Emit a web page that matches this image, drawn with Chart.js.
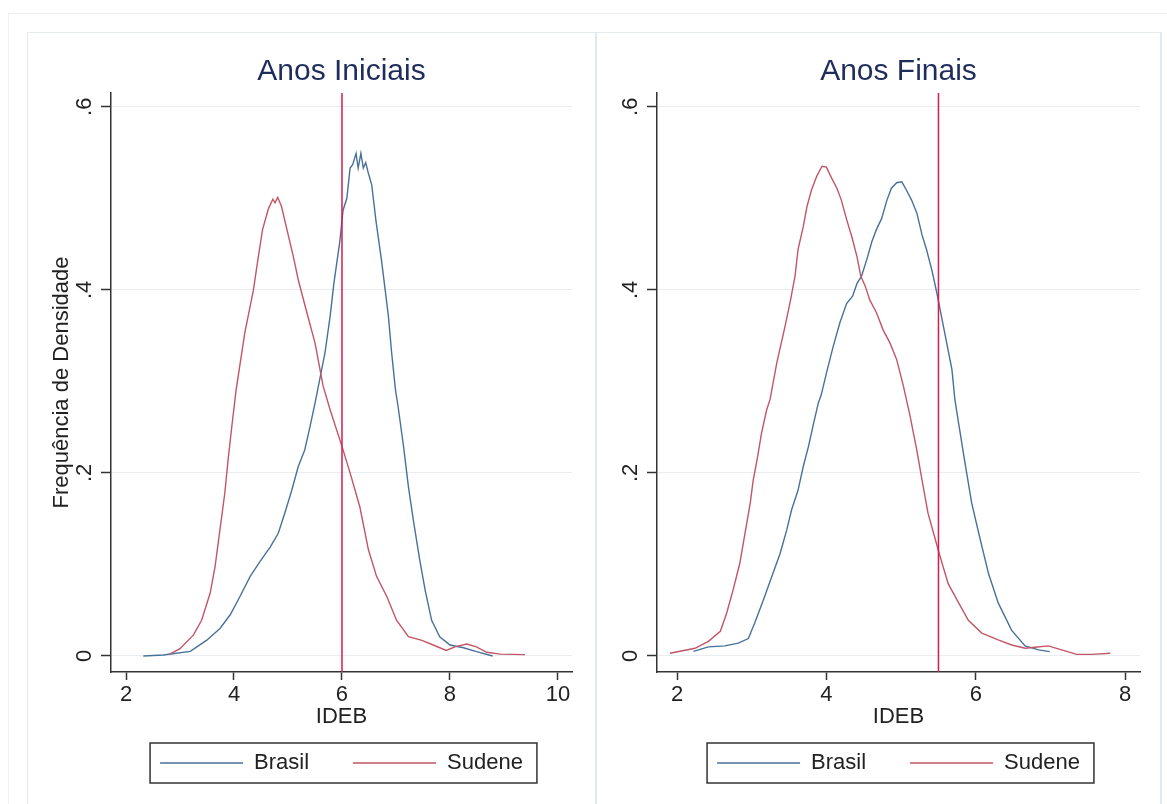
<!DOCTYPE html>
<html>
<head>
<meta charset="utf-8">
<title>IDEB - Anos Iniciais e Finais</title>
<script src="https://cdn.jsdelivr.net/npm/chart.js@4.4.1/dist/chart.umd.min.js"></script>
<style>
  html, body { margin: 0; padding: 0; background: #fff; }
  body { width: 1167px; height: 804px; position: relative; overflow: hidden; }
  .linha { position: absolute; }
  canvas { position: absolute; top: 32px; }
  #graficoIniciais { left: 27px; }
  #graficoFinais { left: 597px; }
</style>
</head>
<body>
<div class="linha" style="left:8px;top:13px;width:1159px;height:1px;background:#eef1f3"></div>
<div class="linha" style="left:8px;top:13px;width:1px;height:791px;background:#eef1f3"></div>
<div class="linha" style="left:27px;top:32px;width:1135px;height:1px;background:#e5ebee"></div>
<div class="linha" style="left:27px;top:32px;width:1px;height:772px;background:#e5ebee"></div>
<div class="linha" style="left:595px;top:32px;width:2px;height:772px;background:#e0e9ed"></div>
<div class="linha" style="left:1160px;top:32px;width:2px;height:772px;background:#e0e9ed"></div>
<canvas id="graficoIniciais" width="568" height="772"></canvas>
<canvas id="graficoFinais" width="563" height="772"></canvas>
<script>
// Anos Iniciais - densidade do IDEB
const iniciaisBrasilX = [2.32, 2.69, 3.19, 3.49, 3.74, 3.93, 4.11, 4.30, 4.48, 4.67, 4.82, 4.94, 5.07, 5.19, 5.31, 5.41, 5.50, 5.56, 5.685, 5.78, 5.85, 5.96, 6.02, 6.09, 6.15, 6.20, 6.26, 6.30, 6.35, 6.395, 6.44, 6.49, 6.55, 6.63, 6.73, 6.80, 6.86, 6.92, 6.99, 7.04, 7.14, 7.23, 7.32, 7.44, 7.54, 7.66, 7.81, 8.00, 8.25, 8.49, 8.79];
const iniciaisBrasilY = [0.000, 0.001, 0.005, 0.017, 0.030, 0.045, 0.065, 0.087, 0.103, 0.119, 0.134, 0.156, 0.181, 0.207, 0.225, 0.251, 0.276, 0.294, 0.331, 0.371, 0.407, 0.453, 0.487, 0.500, 0.533, 0.537, 0.549, 0.533, 0.549, 0.533, 0.539, 0.527, 0.515, 0.475, 0.433, 0.400, 0.371, 0.331, 0.291, 0.272, 0.229, 0.185, 0.149, 0.105, 0.072, 0.039, 0.021, 0.012, 0.009, 0.0047, 0.000];
const iniciaisSudeneX = [2.81, 3.00, 3.25, 3.40, 3.56, 3.65, 3.74, 3.83, 3.89, 3.96, 4.04, 4.20, 4.36, 4.45, 4.53, 4.64, 4.72, 4.76, 4.81, 4.88, 4.98, 5.10, 5.19, 5.35, 5.50, 5.65, 5.78, 6.00, 6.15, 6.33, 6.49, 6.64, 6.83, 7.01, 7.23, 7.48, 7.69, 7.93, 8.09, 8.31, 8.49, 8.68, 8.93, 9.39];
const iniciaisSudeneY = [0.002, 0.008, 0.023, 0.039, 0.069, 0.098, 0.138, 0.178, 0.214, 0.251, 0.291, 0.353, 0.400, 0.436, 0.466, 0.489, 0.499, 0.495, 0.501, 0.491, 0.466, 0.436, 0.411, 0.375, 0.342, 0.295, 0.269, 0.229, 0.200, 0.163, 0.116, 0.087, 0.065, 0.039, 0.021, 0.017, 0.012, 0.006, 0.010, 0.013, 0.010, 0.004, 0.002, 0.0015];

// Anos Finais - densidade do IDEB
const finaisBrasilX = [2.22, 2.42, 2.64, 2.82, 2.955, 3.04, 3.155, 3.27, 3.38, 3.47, 3.535, 3.62, 3.69, 3.76, 3.82, 3.89, 3.93, 4.00, 4.09, 4.18, 4.27, 4.35, 4.41, 4.47, 4.54, 4.61, 4.67, 4.74, 4.81, 4.87, 4.94, 5.01, 5.07, 5.14, 5.21, 5.28, 5.34, 5.41, 5.48, 5.54, 5.61, 5.68, 5.72, 5.77, 5.855, 5.945, 6.06, 6.17, 6.30, 6.48, 6.66, 6.84, 6.99];
const finaisBrasilY = [0.005, 0.010, 0.011, 0.014, 0.019, 0.036, 0.061, 0.087, 0.112, 0.138, 0.160, 0.181, 0.207, 0.229, 0.251, 0.276, 0.285, 0.309, 0.338, 0.364, 0.385, 0.393, 0.407, 0.415, 0.433, 0.453, 0.466, 0.478, 0.498, 0.511, 0.517, 0.518, 0.509, 0.498, 0.484, 0.460, 0.444, 0.422, 0.396, 0.371, 0.342, 0.313, 0.280, 0.254, 0.211, 0.167, 0.127, 0.090, 0.058, 0.028, 0.011, 0.0066, 0.0047];
const finaisSudeneX = [1.906, 2.24, 2.42, 2.58, 2.665, 2.75, 2.84, 2.91, 2.98, 3.02, 3.08, 3.13, 3.20, 3.245, 3.335, 3.446, 3.52, 3.58, 3.62, 3.69, 3.74, 3.80, 3.87, 3.94, 4.00, 4.07, 4.14, 4.20, 4.27, 4.34, 4.41, 4.46, 4.52, 4.58, 4.67, 4.76, 4.85, 4.94, 5.03, 5.12, 5.21, 5.28, 5.36, 5.51, 5.63, 5.77, 5.90, 6.08, 6.30, 6.48, 6.66, 6.79, 6.97, 7.15, 7.35, 7.55, 7.80];
const finaisSudeneY = [0.003, 0.0084, 0.016, 0.027, 0.047, 0.072, 0.101, 0.134, 0.167, 0.192, 0.218, 0.243, 0.269, 0.280, 0.320, 0.360, 0.389, 0.415, 0.444, 0.469, 0.491, 0.509, 0.524, 0.535, 0.534, 0.522, 0.511, 0.498, 0.477, 0.458, 0.436, 0.415, 0.404, 0.389, 0.375, 0.356, 0.342, 0.324, 0.295, 0.262, 0.225, 0.192, 0.156, 0.112, 0.079, 0.058, 0.039, 0.025, 0.0175, 0.012, 0.0084, 0.0095, 0.011, 0.0066, 0.0018, 0.0018, 0.003];

// linhas verticais (meta do IDEB)
const metaIniciais = 6;
const metaFinais = 5.5;

// marcas dos eixos
const ticksY = [0, 0.2, 0.4, 0.6];
const ticksXIniciais = [2, 4, 6, 8, 10];
const ticksXFinais = [2, 4, 6, 8];

// limites dos eixos
const eixoYMin = -0.0175;
const eixoYMax = 0.615;
const eixoXIniciais = [1.722, 10.26];
const eixoXFinais = [1.732, 8.198];

const fonte = "'Liberation Sans', Arial, sans-serif";
const corBrasil = '#48719a';
const corSudene = '#c25666';
const corMeta = '#d81b4f';
const corTexto = '#222222';
const corEixo = '#333333';

// moldura em volta da legenda (estilo Stata)
const caixaLegenda = {
  id: 'caixaLegenda',
  afterDraw(chart) {
    const caixas = chart.legend && chart.legend.legendHitBoxes;
    if (!caixas || !caixas.length) return;
    const primeira = caixas[0];
    const ultima = caixas[caixas.length - 1];
    const meioY = primeira.top + primeira.height / 2;
    const ctx = chart.ctx;
    ctx.save();
    ctx.strokeStyle = corEixo;
    ctx.lineWidth = 1.5;
    ctx.strokeRect(primeira.left - 10, meioY - 20, ultima.left + ultima.width - primeira.left + 24, 40);
    ctx.restore();
  }
};

function pontos(xs, ys) {
  return xs.map((x, i) => ({x: x, y: ys[i]}));
}

function desenharPainel(canvasId, titulo, brasilX, brasilY, sudeneX, sudeneY, meta, eixoX, ticksX, comTituloY, larguraY, margemDireita) {
  const ctx = document.getElementById(canvasId).getContext('2d');
  return new Chart(ctx, {
    type: 'line',
    data: {
      datasets: [
        {
          label: 'Brasil',
          data: pontos(brasilX, brasilY),
          borderColor: corBrasil,
          backgroundColor: corBrasil,
          borderWidth: 1.4,
          pointRadius: 0,
          tension: 0,
          order: 2
        },
        {
          label: 'Sudene',
          data: pontos(sudeneX, sudeneY),
          borderColor: corSudene,
          backgroundColor: corSudene,
          borderWidth: 1.4,
          pointRadius: 0,
          tension: 0,
          order: 1
        },
        {
          label: 'Meta',
          data: [{x: meta, y: eixoYMin}, {x: meta, y: eixoYMax}],
          borderColor: corMeta,
          backgroundColor: corMeta,
          borderWidth: 1.5,
          pointRadius: 0,
          order: 0
        }
      ]
    },
    options: {
      responsive: false,
      animation: false,
      layout: {
        padding: {left: 0, right: margemDireita, top: 0, bottom: 20}
      },
      plugins: {
        tooltip: {enabled: false},
        title: {
          display: true,
          text: titulo,
          fullSize: false,
          color: '#1f2d5c',
          font: {family: fonte, size: 30, weight: 'normal'},
          padding: {top: 22, bottom: 3}
        },
        legend: {
          position: 'bottom',
          fullSize: false,
          labels: {
            boxWidth: 83,
            boxHeight: 0,
            padding: 44,
            color: corTexto,
            font: {family: fonte, size: 22},
            filter: item => item.text !== 'Meta',
            sort: (a, b) => a.datasetIndex - b.datasetIndex
          }
        }
      },
      scales: {
        x: {
          type: 'linear',
          min: eixoX[0],
          max: eixoX[1],
          afterBuildTicks: scale => { scale.ticks = ticksX.map(v => ({value: v})); },
          afterFit: scale => { scale.height = 36; },
          border: {color: corEixo, width: 1.5},
          grid: {drawOnChartArea: false, tickLength: 8, tickColor: corEixo, tickWidth: 1.5},
          ticks: {
            autoSkip: false,
            maxRotation: 0,
            padding: 4,
            color: corTexto,
            font: {family: fonte, size: 22, lineHeight: 1}
          },
          title: {
            display: true,
            text: 'IDEB',
            color: corTexto,
            font: {family: fonte, size: 22, lineHeight: 1},
            padding: {top: 0, bottom: -20}
          }
        },
        y: {
          type: 'linear',
          min: eixoYMin,
          max: eixoYMax,
          afterBuildTicks: scale => { scale.ticks = ticksY.map(v => ({value: v})); },
          afterFit: scale => { scale.width = larguraY; },
          border: {color: corEixo, width: 1.5},
          grid: {color: '#e9edf0', lineWidth: 1, tickLength: 10, tickColor: corEixo, tickWidth: 1.5},
          ticks: {
            autoSkip: false,
            minRotation: 90,
            maxRotation: 90,
            crossAlign: 'center',
            padding: 7,
            color: corTexto,
            font: {family: fonte, size: 22, lineHeight: 1},
            callback: v => v === 0 ? '0' : String(v).replace(/^0\./, '.')
          },
          title: {
            display: comTituloY,
            text: 'Frequência de Densidade',
            color: corTexto,
            font: {family: fonte, size: 22, lineHeight: 1},
            padding: {top: 24, bottom: 0}
          }
        }
      }
    },
    plugins: [caixaLegenda]
  });
}

desenharPainel('graficoIniciais', 'Anos Iniciais', iniciaisBrasilX, iniciaisBrasilY, iniciaisSudeneX, iniciaisSudeneY, metaIniciais, eixoXIniciais, ticksXIniciais, true, 84, 23);
desenharPainel('graficoFinais', 'Anos Finais', finaisBrasilX, finaisBrasilY, finaisSudeneX, finaisSudeneY, metaFinais, eixoXFinais, ticksXFinais, false, 60, 20);
</script>
</body>
</html>
